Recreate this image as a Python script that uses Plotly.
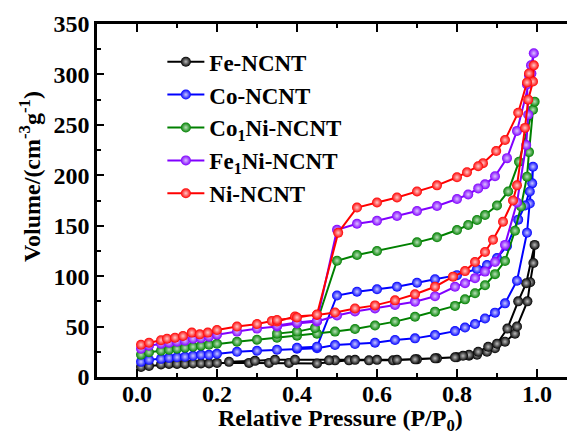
import plotly.graph_objects as go

# ---------------- data ----------------
names = ["Fe-NCNT", "Co-NCNT", "Co<sub>1</sub>Ni-NCNT", "Fe<sub>1</sub>Ni-NCNT", "Ni-NCNT"]
colors = ["#000000", "#0000ff", "#008000", "#8000ff", "#ff0000"]
highlights = ["#bbbbbb", "#c8c8ff", "#b8e0b8", "#dcc0ff", "#ffc8c8"]

# Fe-NCNT
fe_ads_p = [0.01, 0.03, 0.06, 0.08, 0.10, 0.12, 0.14, 0.16, 0.18, 0.20, 0.28, 0.33, 0.38, 0.45, 0.53, 0.58,
            0.64, 0.70, 0.75, 0.80, 0.83, 0.85, 0.875, 0.895, 0.92, 0.945, 0.95, 0.976, 0.983, 0.991, 0.994]
fe_ads_v = [10, 11, 12.5, 13, 13, 13, 13.5, 13.5, 13.5, 14, 14, 14, 14, 13.5, 16.5, 16.5,
            16.5, 17.5, 18.5, 19.5, 21, 22, 25, 28.5, 35, 43, 50, 75, 94, 113, 131]
fe_des_p = [0.973, 0.953, 0.926, 0.90, 0.878, 0.853, 0.83, 0.815, 0.795, 0.745, 0.695, 0.65, 0.60, 0.545,
            0.495, 0.48, 0.395, 0.345, 0.295, 0.23]
fe_des_v = [93, 75, 48, 33, 30, 25, 22, 21, 19.5, 18.5, 17.5, 17, 17, 17,
            16.5, 16.5, 17, 17, 16, 15]

# Co-NCNT
co_ads_p = [0.01, 0.03, 0.06, 0.08, 0.10, 0.12, 0.14, 0.16, 0.18, 0.20, 0.25, 0.30, 0.35, 0.40, 0.45, 0.495,
            0.545, 0.595, 0.645, 0.695, 0.745, 0.795, 0.82, 0.845, 0.87, 0.895, 0.92, 0.95, 0.975, 0.982, 0.99]
co_ads_v = [15, 17, 18, 19, 19.5, 20, 21, 22, 22, 23, 25, 26, 27, 28, 28.5, 31.7,
            32.7, 34, 36.7, 38.3, 41.6, 45.5, 49, 52.5, 58, 63.8, 73, 95.5, 143, 172, 208.5]
co_des_p = [0.988, 0.982, 0.97, 0.953, 0.925, 0.90, 0.875, 0.85, 0.80, 0.745, 0.70, 0.65, 0.60, 0.55, 0.50,
            0.45, 0.40]
co_des_v = [192, 184, 170, 156, 130, 118, 111, 107, 101, 97, 93.5, 89.5, 87, 84.6, 80.8,
            30, 29]

# Co1Ni-NCNT
coni_ads_p = [0.01, 0.03, 0.06, 0.08, 0.10, 0.12, 0.14, 0.16, 0.18, 0.20, 0.25, 0.30, 0.35, 0.40, 0.45, 0.495,
              0.545, 0.595, 0.645, 0.695, 0.745, 0.795, 0.82, 0.845, 0.87, 0.895, 0.92, 0.945, 0.96, 0.975, 0.98,
              0.99, 0.994]
coni_ads_v = [22, 24.5, 26, 27, 28, 29, 30, 31, 32, 33, 35, 37, 39, 41, 43, 45,
              47.6, 51, 54.9, 59.8, 64.8, 70.5, 77, 83, 91, 102, 115, 145, 169, 198.6, 223,
              265, 273]
coni_des_p = [0.955, 0.928, 0.90, 0.87, 0.85, 0.828, 0.80, 0.75, 0.70, 0.60, 0.55, 0.50, 0.445, 0.40, 0.35]
coni_des_v = [213.5, 184, 170, 160.6, 155.7, 150.7, 145.7, 138.5, 133.5, 125, 121, 115.3, 48.6, 45, 43]

# Fe1Ni-NCNT
feni_ads_p = [0.01, 0.03, 0.06, 0.08, 0.10, 0.12, 0.14, 0.16, 0.18, 0.20, 0.25, 0.30, 0.35, 0.40, 0.45, 0.50,
              0.545, 0.595, 0.645, 0.695, 0.745, 0.795, 0.82, 0.845, 0.87, 0.895, 0.92, 0.95, 0.973, 0.978,
              0.975, 0.98, 0.985, 0.992]
feni_ads_v = [28, 31, 33, 34, 35, 36, 38, 38.5, 40, 42, 45, 48, 50, 53, 55, 61,
              65, 68, 71.4, 74.7, 80, 89.5, 93, 98, 104.5, 114, 131, 173, 230, 260,
              290, 299, 309, 321]
feni_des_p = [0.986, 0.95, 0.925, 0.895, 0.87, 0.853, 0.828, 0.80, 0.75, 0.70, 0.65, 0.60, 0.55, 0.50,
              0.45, 0.40, 0.35]
feni_des_v = [301, 244, 217, 199, 191, 187, 181, 176.5, 169.5, 164.6, 159.6, 155, 152, 146,
              56, 54, 51]

# Ni-NCNT
ni_ads_p = [0.01, 0.03, 0.06, 0.075, 0.095, 0.115, 0.137, 0.157, 0.177, 0.20, 0.25, 0.30, 0.337, 0.35, 0.395,
            0.45, 0.495, 0.545, 0.595, 0.645, 0.695, 0.745, 0.79, 0.82, 0.845, 0.87, 0.89, 0.915, 0.94, 0.95,
            0.97, 0.978, 0.99, 0.992]
ni_ads_v = [32, 34, 36.5, 38, 39, 40.7, 44, 42.3, 44, 46.6, 50, 52.5, 55.5, 55, 60,
            61.5, 64, 68, 71, 76, 82, 89.5, 99.5, 105, 114, 124, 136, 154, 175, 190,
            247, 275, 293, 309]
ni_des_p = [0.98, 0.975, 0.953, 0.92, 0.898, 0.865, 0.853, 0.825, 0.80, 0.75, 0.70, 0.65, 0.60, 0.55,
            0.503, 0.45, 0.40, 0.35]
ni_des_v = [301, 292, 262, 235, 224, 212, 209, 203, 198, 190, 184, 178, 173, 168,
            143, 62, 59, 56.5]

series = [
    (fe_ads_p + fe_des_p, fe_ads_v + fe_des_v),
    (co_ads_p + co_des_p, co_ads_v + co_des_v),
    (coni_ads_p + coni_des_p, coni_ads_v + coni_des_v),
    (feni_ads_p + feni_des_p, feni_ads_v + feni_des_v),
    (ni_ads_p + ni_des_p, ni_ads_v + ni_des_v),
]

x_ticks = [0.0, 0.2, 0.4, 0.6, 0.8, 1.0]
x_ticktext = ["0.0", "0.2", "0.4", "0.6", "0.8", "1.0"]
y_ticks = [0, 50, 100, 150, 200, 250, 300, 350]

FONT = "Liberation Serif"

fig = go.Figure()
for name, col, hl, (xs, ys) in zip(names, colors, highlights, series):
    fig.add_trace(go.Scatter(
        x=xs, y=ys, name=name, mode="lines+markers",
        line=dict(color=col, width=2),
        marker=dict(symbol="circle", size=10, color=col,
                    gradient=dict(type="radial", color=hl),
                    line=dict(width=0)),
    ))

axis_common = dict(
    showline=True, linecolor="black", linewidth=2.5,
    ticks="inside", tickcolor="black", tickwidth=2,
    showgrid=False, zeroline=False, automargin=False,
    tickfont=dict(family=FONT, size=24, color="black", weight="bold"),
)

fig.update_xaxes(
    range=[-0.1, 1.115], tickvals=x_ticks, ticktext=x_ticktext, ticklen=8,
    mirror="ticks", ticklabelstandoff=-7,
    minor=dict(ticks="inside", dtick=0.1, tick0=0, ticklen=4, tickcolor="black", tickwidth=2),
    **axis_common,
)
fig.update_yaxes(
    range=[0, 350], tickvals=y_ticks, ticklen=7, mirror=False,
    minor=dict(ticks="inside", dtick=25, tick0=0, ticklen=4, tickcolor="black", tickwidth=2),
    **axis_common,
)

fig.add_annotation(
    text="Relative Pressure (P/P<sub>0</sub>)",
    xref="paper", yref="paper", x=0.5, y=-0.122, xanchor="center", yanchor="middle",
    showarrow=False, font=dict(family=FONT, size=24, color="black", weight="bold"),
)
fig.add_annotation(
    text="Volume/(cm<sup>-3</sup>g<sup>-1</sup>)", textangle=-90,
    xref="paper", yref="paper", x=-0.138, y=0.569, xanchor="center", yanchor="middle",
    showarrow=False, font=dict(family=FONT, size=24, color="black", weight="bold"),
)

fig.update_layout(
    width=575, height=437,
    margin=dict(l=89, r=0, t=16, b=68),
    paper_bgcolor="white", plot_bgcolor="white",
    showlegend=True,
    legend=dict(x=0.1345, y=0.954, xanchor="left", yanchor="top",
                bgcolor="rgba(0,0,0,0)", borderwidth=0, itemwidth=37,
                font=dict(family=FONT, size=23, color="black", weight="bold"),
                tracegroupgap=0),
)

fig.write_html("out.html")
